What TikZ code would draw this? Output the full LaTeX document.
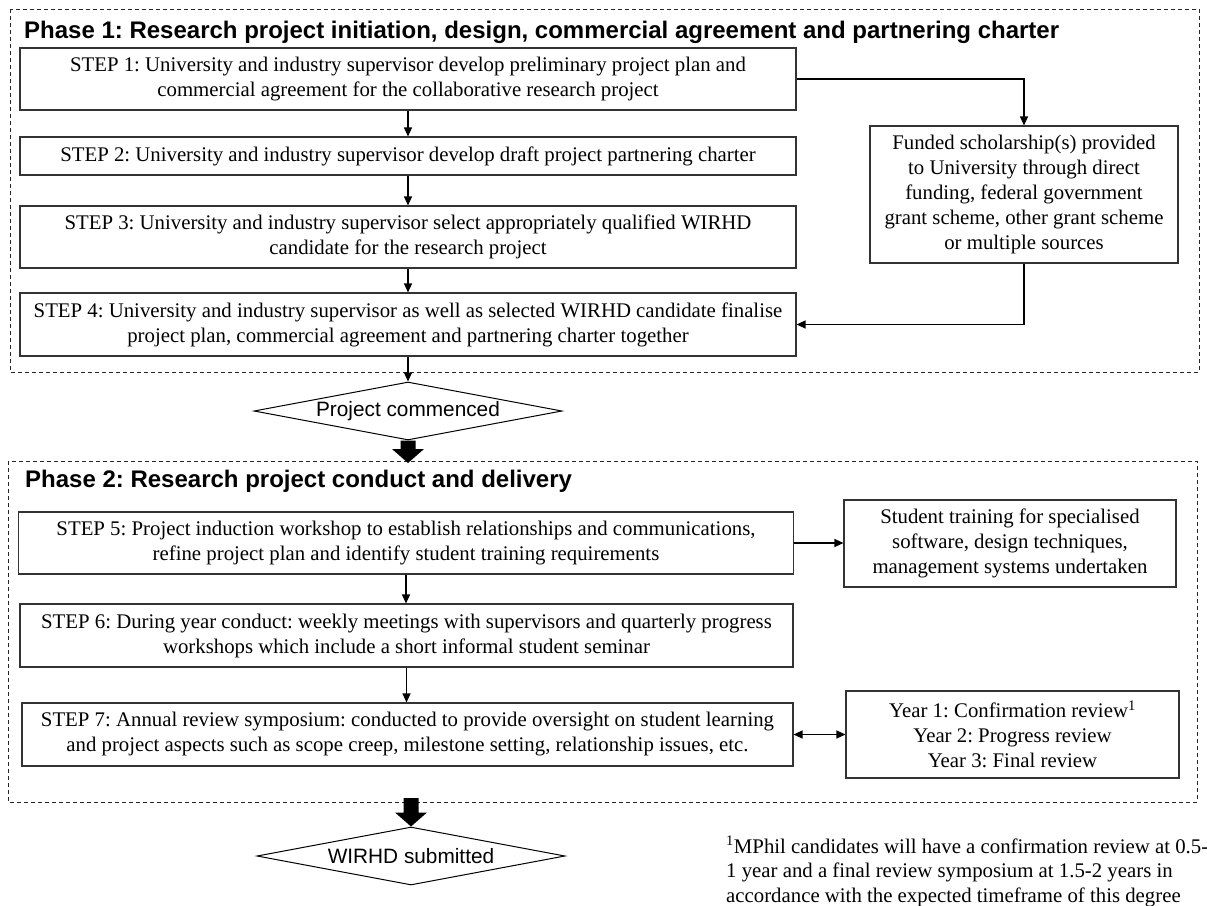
\documentclass[tikz,border=0pt]{standalone}
\usepackage{fontspec}
\setmainfont{Liberation Serif}
\setsansfont{Liberation Sans}
\usetikzlibrary{arrows.meta,shapes.geometric,calc}
\frenchspacing
\begin{document}
\frenchspacing
\begin{tikzpicture}[x=1pt,y=-1pt,
  box/.style={draw=black!80, line width=1.1pt, fill=white, inner sep=0pt, align=center,
    font=\fontsize{20.8}{25}\selectfont},
  stepbox/.style={box, minimum width=776pt, minimum height=62pt},
  phase/.style={draw=black!85, dash pattern=on 4pt off 3pt, line width=0.9pt},
  ttl/.style={font=\fontsize{24}{28}\selectfont\sffamily\bfseries, anchor=base west, inner sep=0pt},
  tip/.tip={Triangle[length=9pt,width=8pt]},
  conn/.style={draw=black, line width=1.2pt, -tip},
  dconn/.style={draw=black, line width=1.2pt, tip-tip},
  dia/.style={diamond, draw=black, line width=1pt, aspect=5.3, inner sep=0pt,
    minimum width=308pt, minimum height=58pt, font=\fontsize{20.8}{25}\selectfont\sffamily},
  bigarrow/.style={fill=black}
]
\useasboundingbox (0,0) rectangle (1207,905);

% phase containers
\draw[phase] (10,9) rectangle (1199,372);
\draw[phase] (8,461) rectangle (1197,802);
\coordinate (p2top) at (408,463);
\coordinate (p2bot) at (411,798);

\node[ttl] (t1) at (24,38) {Phase 1: Research project initiation, design, commercial agreement and partnering charter};
\node[ttl] (t2) at (25,487) {Phase 2: Research project conduct and delivery};

% phase 1 steps
\node[stepbox] (s1) at (408,79) {STEP 1: University and industry supervisor develop preliminary project plan and\\commercial agreement for the collaborative research project};
\node[stepbox, minimum height=38pt] (s2) at (408,156) {STEP 2: University and industry supervisor develop draft project partnering charter};
\node[stepbox] (s3) at (408,237) {STEP 3: University and industry supervisor select appropriately qualified WIRHD\\candidate for the research project};
\node[stepbox, minimum height=63pt] (s4) at (408,324.5) {STEP 4: University and industry supervisor as well as selected WIRHD candidate finalise\\project plan, commercial agreement and partnering charter together};
\node[box, minimum width=308pt, minimum height=137pt] (fund) at (1024,194.5) {Funded scholarship(s) provided\\to University through direct\\funding, federal government\\grant scheme, other grant scheme\\or multiple sources};

\node[dia] (d1) at (408,411) {Project commenced};

% phase 2 steps
\node[stepbox, minimum width=775pt] (s5) at (406,543) {STEP 5: Project induction workshop to establish relationships and communications,\\refine project plan and identify student training requirements};
\node[stepbox, minimum width=773pt, minimum height=63pt] (s6) at (406.5,635.5) {STEP 6: During year conduct: weekly meetings with supervisors and quarterly progress\\workshops which include a short informal student seminar};
\node[stepbox, minimum width=771pt, minimum height=63pt] (s7) at (407.5,734.5) {STEP 7: Annual review symposium: conducted to provide oversight on student learning\\and project aspects such as scope creep, milestone setting, relationship issues, etc.};
\node[box, minimum width=332pt, minimum height=87pt] (stu) at (1010,543.5) {Student training for specialised\\software, design techniques,\\management systems undertaken};
\node[box, minimum width=333pt, minimum height=87pt] (yr) at (1012.5,734.5) {Year 1: Confirmation review\textsuperscript{1}\\Year 2: Progress review\\Year 3: Final review};

\node[dia] (d2) at (411,856) {WIRHD submitted};

% footnote (base anchor = baseline of last line)
\node[anchor=base west, align=left, inner sep=0pt, font=\fontsize{20.8}{24.5}\selectfont] (fn) at (726,902)
  {\textsuperscript{1}MPhil candidates will have a confirmation review at 0.5-\\1 year and a final review symposium at 1.5-2 years in\\accordance with the expected timeframe of this degree};

% connectors
\draw[conn] (s1.south) -- (s2.north);
\draw[conn] (s2.south) -- (s3.north);
\draw[conn] (s3.south) -- (s4.north);
\draw[conn] (s4.south) -- (d1.north);
\draw[conn] (s1.east) -| (fund.north);
\draw[conn] (fund.south) |- (s4.east);
\draw[conn] (s5.south) -- (s5.south |- s6.north);
\draw[conn] (s6.south) -- (s6.south |- s7.north);
\draw[conn] (s5.east) -- (s5.east -| stu.west);
\draw[dconn] (s7.east) -- (s7.east -| yr.west);

% block arrows
\fill[bigarrow] ($(d1.south)+(-7.5,0)$) -- ($(d1.south)+(7.5,0)$) -- ($(p2top)+(7.5,-14)$) -- ($(p2top)+(16,-14)$) -- (p2top) -- ($(p2top)+(-16,-14)$) -- ($(p2top)+(-7.5,-14)$) -- cycle;
\fill[bigarrow] ($(p2bot)+(-7.5,0)$) -- ($(p2bot)+(7.5,0)$) -- ($(d2.north)+(7.5,-14)$) -- ($(d2.north)+(16,-14)$) -- (d2.north) -- ($(d2.north)+(-16,-14)$) -- ($(d2.north)+(-7.5,-14)$) -- cycle;
\end{tikzpicture}
\end{document}
